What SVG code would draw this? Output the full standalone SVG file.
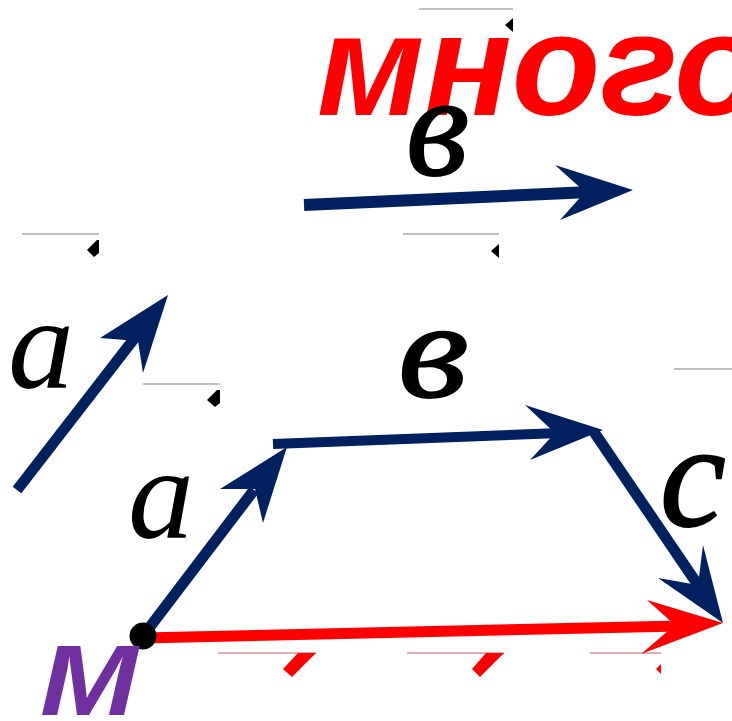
<svg xmlns="http://www.w3.org/2000/svg" width="732" height="721" viewBox="0 0 732 721">
<style>
.lbl{font-family:"Liberation Serif","Times New Roman",serif;font-style:italic;fill:#000}
.thick{stroke:#000;stroke-width:2;stroke-linejoin:round}
.gl{stroke:#808080;stroke-width:1.2;fill:none}
.rl{stroke:#b86060;stroke-width:1.2;fill:none}
.navy{stroke:#002060;fill:none;stroke-linecap:butt}
.navyh{fill:#002060}
.red{stroke:#ff0000;fill:none}
.redh{fill:#ff0000}
</style>
<rect width="732" height="721" fill="#fff"/>
<g id="title">
<text x="317" y="115" font-family="'Liberation Sans',Arial,sans-serif" font-weight="bold" font-style="italic" font-size="145" fill="#ff0000">много</text>
</g>
<g id="marks">
<line class="gl" x1="419" y1="9" x2="513" y2="9"/>
<polygon points="505,25 513,18 513,32" fill="#000"/>
<line class="gl" x1="22" y1="234" x2="99" y2="234"/>
<polygon points="87,250 97,240 99,240 99,253 94,257" fill="#000"/>
<line class="gl" x1="403" y1="234" x2="499" y2="234"/>
<polygon points="491,251 499,244 499,258" fill="#000"/>
<line class="gl" x1="143" y1="384" x2="220" y2="384"/>
<polygon points="207,400 217,390 220,390 220,403 215,407" fill="#000"/>
<line class="gl" x1="674" y1="369" x2="732" y2="369"/>
<line class="rl" x1="218" y1="653" x2="316" y2="653"/>
<line class="rl" x1="407" y1="653" x2="504" y2="653"/>
<line class="rl" x1="590" y1="653" x2="661" y2="653"/>
<polygon points="298,653 316,653 292,677 283,669" fill="#ff0000"/>
<polygon points="486,653 504,653 480,677 472,669" fill="#ff0000"/>
<polygon points="656,669 661,664 661,674" fill="#ff0000"/>
</g>
<g id="connectors">
<g id="vec-b-top">
<line class="navy" x1="304" y1="205" x2="590" y2="192" stroke-width="12"/>
<polygon class="navyh" points="633,190 555,165 585,192 560,220"/>
</g>
<g id="vec-a-left">
<line class="navy" x1="17" y1="490" x2="137" y2="335" stroke-width="11"/>
<polygon class="navyh" points="168,295 100,338 138,341 143,373"/>
</g>
<g id="vec-a">
<line class="navy" x1="143" y1="636" x2="254" y2="490" stroke-width="11"/>
<polygon class="navyh" points="287,447 220,489 255,489 263,523"/>
</g>
<g id="vec-b">
<line class="navy" x1="273" y1="444" x2="560" y2="433" stroke-width="10"/>
<polygon class="navyh" points="603,430 525,405 555,433 530,460"/>
</g>
<g id="vec-c">
<line class="navy" x1="594" y1="432" x2="700" y2="588" stroke-width="11"/>
<polygon class="navyh" points="723,623 703,545 698,585 658,578"/>
</g>
<g id="vec-sum">
<line class="red" x1="143" y1="638" x2="680" y2="626" stroke-width="11"/>
<polygon class="redh" points="723,623 647,600 675,625 641,654"/>
</g>
</g>
<g id="label-a-left"><text class="lbl" x="8" y="388" font-size="132">a</text></g>
<g id="label-b-top"><text class="lbl thick" x="406" y="175" font-size="145">в</text></g>
<g id="label-a"><text class="lbl" x="128" y="538" font-size="132">a</text></g>
<g id="label-b"><text class="lbl thick" font-size="145" transform="translate(398,397) scale(1.12,0.95)">в</text></g>
<g id="label-c"><text class="lbl thick" x="660" y="526" font-size="148">c</text></g>
<g id="point-M">
<circle cx="143" cy="636" r="13.5" fill="#000"/>
<text transform="translate(40,715) scale(1.16,1)" x="0" y="0" font-family="'Liberation Sans',Arial,sans-serif" font-weight="bold" font-style="italic" font-size="101" fill="#7030a0">M</text>
</g>
</svg>
